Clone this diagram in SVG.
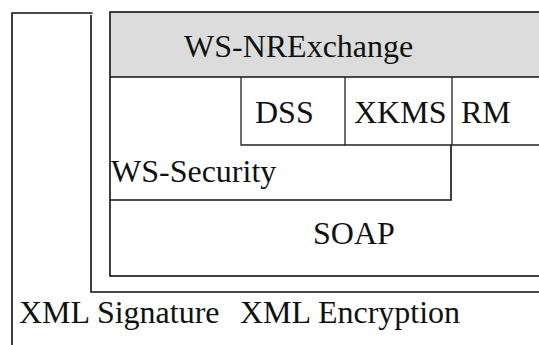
<svg xmlns="http://www.w3.org/2000/svg" width="539" height="345" viewBox="0 0 539 345">
  <style>
    .ln { fill: none; stroke: #111; stroke-width: 1.6; }
    .thin { fill: none; stroke: #222; stroke-width: 1.3; }
    .band { fill: #dcdcdc; }
    .lbl { font-family: 'Liberation Serif', 'Times New Roman', 'DejaVu Serif', serif; font-size: 32px; fill: #111; }
  </style>
  <rect width="539" height="345" fill="#ffffff"/>

  <!-- XML Signature: outermost bracket -->
  <g id="xml-signature">
    <path class="ln" d="M 92.5 13 H 12 V 345"/>
    <text class="lbl" x="19" y="323">XML Signature</text>
  </g>

  <!-- XML Encryption: inner bracket -->
  <g id="xml-encryption">
    <path class="ln" d="M 91 15 V 292 H 545"/>
    <text class="lbl" x="240" y="323">XML Encryption</text>
  </g>

  <!-- Protocol stack box, right side runs past the edge -->
  <g id="ws-nrexchange">
    <rect class="band" x="110" y="12" width="440" height="65"/>
    <rect class="ln" x="110" y="12" width="440" height="264"/>
    <line class="ln" x1="110" y1="77" x2="545" y2="77"/>
    <text class="lbl" x="184" y="57">WS-NRExchange</text>
  </g>

  <g id="dss">
    <path class="thin" d="M 241 77 V 145 H 345"/>
    <text class="lbl" x="255" y="123">DSS</text>
  </g>

  <g id="xkms">
    <path class="thin" d="M 345 77 V 145 H 452"/>
    <text class="lbl" x="354" y="123">XKMS</text>
  </g>

  <g id="rm">
    <path class="thin" d="M 452 77 V 145 H 545"/>
    <text class="lbl" x="461" y="123">RM</text>
  </g>

  <g id="ws-security">
    <path class="ln" d="M 451 145 V 200 H 110"/>
    <text class="lbl" x="111" y="182">WS-Security</text>
  </g>

  <g id="soap">
    <text class="lbl" x="313" y="244">SOAP</text>
  </g>

  <g id="connectors"/>
</svg>
